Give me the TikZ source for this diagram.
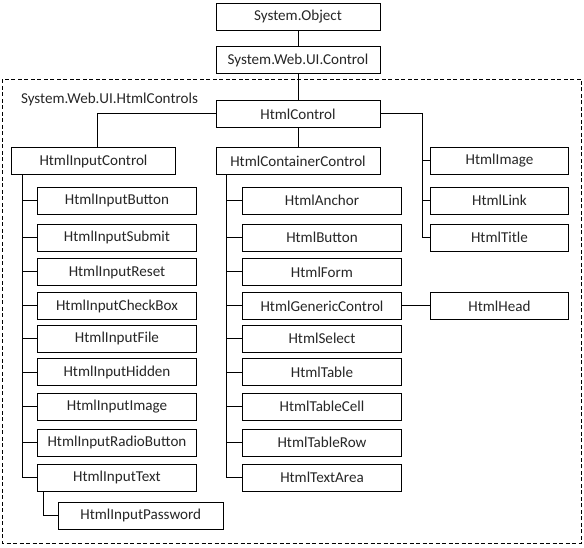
\documentclass[tikz,border=0pt]{standalone}
\usepackage{fontspec}
\setmainfont{Carlito}
\begin{document}
\begin{tikzpicture}[x=1pt,y=-1pt,line width=1pt,
  cls/.style={draw,rectangle,minimum height=27pt,inner sep=0pt,font=\fontsize{15.1}{17}\selectfont,text=black!85},
  wmain/.style={cls,minimum width=164pt},
  wleft/.style={cls,minimum width=158.6pt},
  wmid/.style={cls,minimum width=159.4pt},
  wright/.style={cls,minimum width=138pt}]
\useasboundingbox (0,0) rectangle (584,548);
\draw[dash pattern=on 4pt off 2.5pt] (2.7,79.3) rectangle (581.7,543.3);
\node[anchor=west,font=\fontsize{15.1}{17}\selectfont,text=black!85,inner sep=0pt] (lbl) at (20.5,99) {System.Web.UI.HtmlControls};
\node[wmain] (obj) at (298,17) {System.Object};
\node[wmain] (ctrl) at (298,60) {System.Web.UI.Control};
\node[wmain] (hc) at (298,114) {HtmlControl};
\node[cls,minimum width=163.6pt] (hic) at (93.5,161) {HtmlInputControl};
\node[wmain] (hcc) at (298,161) {HtmlContainerControl};
\node[wright] (img) at (499.5,161) {HtmlImage};
\node[wright] (link) at (499.5,200.8) {HtmlLink};
\node[wright] (title) at (499.5,237.8) {HtmlTitle};
% left column
\node[wleft] (ib) at (117,200.8) {HtmlInputButton};
\node[wleft] (is) at (117,237.8) {HtmlInputSubmit};
\node[wleft] (ir) at (117,272) {HtmlInputReset};
\node[wleft] (icb) at (117,306) {HtmlInputCheckBox};
\node[wleft] (if) at (117,338.7) {HtmlInputFile};
\node[wleft] (ih) at (117,372) {HtmlInputHidden};
\node[wleft] (ii) at (117,406.8) {HtmlInputImage};
\node[wleft] (irb) at (117,442.8) {HtmlInputRadioButton};
\node[wleft] (it) at (117,477.7) {HtmlInputText};
\node[cls,minimum width=165pt] (pw) at (140.8,515.8) {HtmlInputPassword};
% middle column
\node[wmid] (an) at (322,200.8) {HtmlAnchor};
\node[wmid] (bt) at (322,237.8) {HtmlButton};
\node[wmid] (fm) at (322,272) {HtmlForm};
\node[wmid] (gc) at (322,306) {HtmlGenericControl};
\node[wmid] (sl) at (322,338.7) {HtmlSelect};
\node[wmid] (tb) at (322,372) {HtmlTable};
\node[wmid] (tc) at (322,406.8) {HtmlTableCell};
\node[wmid] (tr) at (322,442.8) {HtmlTableRow};
\node[wmid] (ta) at (322,477.7) {HtmlTextArea};
\node[wright,minimum width=138.4pt] (hd) at (499.5,306) {HtmlHead};
% connectors
\draw (obj) -- (ctrl);
\draw (ctrl) -- (hc);
\draw (hc) -- (hcc);
\draw (hc.west) -| ([xshift=4.2pt]hic.north);
\draw (hc.east) -| ([xshift=-8pt]img.west |- title.west) -- (title.west);
\draw (img.west) -- ++(-8,0);
\draw (link.west) -- ++(-8,0);
\draw ([xshift=11pt]hic.south west) |- (it.west);
\foreach \n in {ib,is,ir,icb,if,ih,ii,irb} \draw (\n.west) -- ++(-15,0);
\draw ([xshift=6.6pt]it.south west) |- (pw.west);
\draw ([xshift=11.3pt]hcc.south west) |- (ta.west);
\foreach \n in {an,bt,fm,gc,sl,tb,tc,tr} \draw (\n.west) -- ++(-15,0);
\draw (gc.east) -- (hd.west);
\end{tikzpicture}
\end{document}
